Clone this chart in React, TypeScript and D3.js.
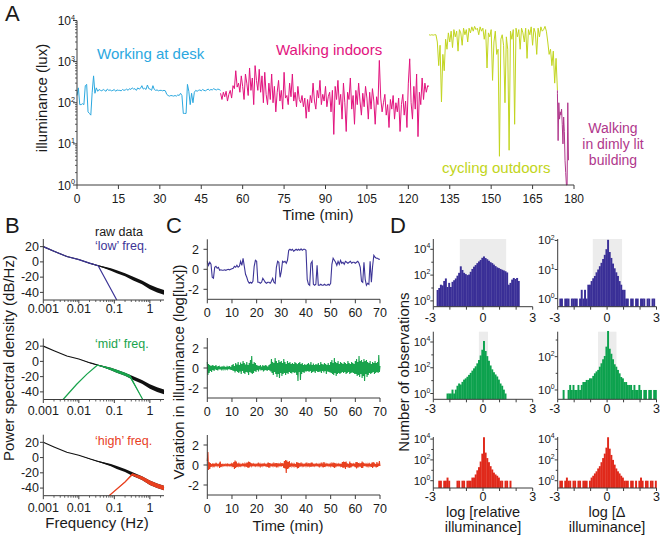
import React from "react";
import * as d3 from "d3";

// ---------- panel A: illuminance over the day (lux) ----------
const stepA = 0.5; // minutes between samples
const deskStart = 0;
const deskLux = [
  150, 230, 90, 90, 95, 90, 260, 280, 60, 55,
  50, 180, 450, 170, 230, 190, 210, 200, 195, 210,
  200, 190, 215, 200, 205, 195, 200, 210, 190, 205,
  200, 200, 195, 210, 200, 205, 215, 200, 220, 210,
  230, 215, 220, 200, 230, 215, 225, 260, 215, 225,
  210, 270, 220, 215, 200, 260, 210, 200, 205, 195,
  200, 200, 195, 200, 195, 160, 150, 145, 150, 148,
  145, 150, 145, 155, 150, 170, 150, 55, 55, 55,
  280, 190, 90, 170, 100, 180, 200, 190, 200, 205,
  195, 210, 200, 195, 205, 215, 200, 210, 205, 220,
  210, 205, 215, 210, 200,
];
const walkStart = 52;
const walkLux = [
  170, 120, 180, 140, 190, 110, 160, 200, 130, 260,
  220, 600, 240, 300, 180, 450, 250, 120, 500, 300,
  150, 700, 200, 400, 90, 800, 350, 200, 650, 180,
  450, 100, 550, 160, 90, 300, 120, 500, 100, 250,
  60, 180, 350, 110, 200, 70, 550, 130, 150, 90,
  300, 140, 500, 110, 180, 80, 250, 120, 100, 150,
  80, 130, 42, 120, 60, 150, 100, 300, 110, 70,
  200, 130, 350, 90, 160, 110, 250, 80, 140, 180,
  60, 200, 17, 250, 120, 350, 90, 160, 40, 300,
  100, 20, 180, 120, 400, 70, 150, 30, 200, 90,
  300, 110, 50, 170, 80, 250, 130, 40, 180, 70,
  220, 110, 30, 140, 90, 1070, 130, 60, 100, 160,
  50, 90, 25, 120, 70, 150, 40, 100, 60, 130,
  20, 90, 160, 50, 110, 25, 300, 1170, 100, 40,
  250, 70, 500, 15, 180, 90, 400, 120, 300, 180,
  260, 250,
];
const cycleStart = 127.5;
const cycleLux = [
  4500, 4400, 4500, 4400, 4500, 4500, 3000, 800, 2500, 105,
  1500, 600, 3500, 2000, 5000, 3000, 5500, 2200, 6000, 4000,
  5500, 1800, 6000, 5000, 2500, 6500, 4500, 6000, 3000, 6500,
  5000, 7000, 5500, 7200, 6000, 6500, 4500, 7000, 5500, 6500,
  3500, 6000, 700, 5000, 4000, 6000, 350, 3000, 5500, 1500,
  2000, 5, 3500, 4500, 2500, 100, 4000, 2000, 7, 5500,
  3500, 6000, 30, 6500, 4000, 6000, 2000, 6500, 5000, 3000,
  6500, 1200, 6000, 4500, 7000, 2500, 6500, 5000, 1500, 6500,
  4000, 7000, 5500, 6000, 7200, 5500, 3000, 1500, 2000, 800,
  1800, 300, 1200, 200,
];
const dimStart = 174;
const dimStep = 0.25;
const dimLux = [170, 12, 100, 40, 60, 50, 70, 30, 10, 45, 20, 4, 2, 1, 1, 100, 4];
const timeTicksA = [0, 15, 30, 45, 60, 75, 90, 105, 120, 135, 150, 165, 180];
const luxDecades = [0, 1, 2, 3, 4];

// ---------- panel B: power spectra (dB/Hz vs Hz) ----------
const rawFreq = [0.001, 0.002, 0.0046, 0.01, 0.021, 0.032, 0.05, 0.08, 0.117, 0.2, 0.34, 0.6, 1, 1.6, 2.5];
const rawDb = [20, 14, 7, 3, -2, -4.5, -7, -10, -13, -17, -22, -27, -33, -37, -40];
const rawSpread = [0, 0, 0, 0, 0.3, 0.5, 1, 1.5, 2, 2, 2.5, 2.5, 3, 3, 3];
const lowFreq = [0.001, 0.002, 0.0046, 0.01, 0.021, 0.035, 0.117];
const lowDb = [20, 14, 7, 3, -2, -5, -50];
const midFreq = [0.0036, 0.0087, 0.0166, 0.033, 0.05, 0.08, 0.117, 0.2, 0.28, 0.63];
const midDb = [-50, -30, -17, -5, -7, -10, -13, -17, -20, -50];
const midSpread = [0, 0, 0, 0, 1, 1.5, 2, 2, 2, 0];
const highFreq = [0.071, 0.2, 0.32, 0.6, 1, 1.6, 2.5];
const highDb = [-50, -32, -22, -27, -33, -37, -40];
const highSpread = [0, 0.5, 1.5, 2.5, 3, 3, 3];
const freqLabels = [0.001, 0.01, 0.1, 1];
const dbTicks = [20, 0, -20, -40];

// ---------- panel C: filtered traces (log lux) ----------
const lowStep = 0.5;
const lowTrace = [
  0.8, 0.4, 0.7, 0.5, -0.8, -0.9, 0.2, 0.3, 0.1, 0.2,
  -0.1, -0.05, -0.1, -0.1, -0.05, -0.1, -0.05, 0, -0.05, 0,
  0.05, 0.1, 0.3, 0.2, 0.4, 0.2, 0.3, 0.8, 0.4, 1.1,
  0.3, -0.5, -0.8, -1.2, -1.4, -1.3, -1.4, -1.2, 0.3, 0.9,
  0.8, -1.3, -1.3, -1.4, -1.3, -0.9, -1.1, -1.3, -1.4, -1.3,
  -1.3, -1.4, -1.2, -0.9, -1.3, -1.4, 0.2, 0.8, 0.7, -0.8,
  -0.2, 0.8, 0.7, 0.8, 0.6, 0.9, 1.9, 2.0, 1.9, 2.0,
  1.8, 1.9, 2.0, 1.9, 2.0, 1.9, 2.05, 1.9, 2.0, 2.0,
  1.9, -1.0, -1.5, -1.6, 0.6, 0.8, -1.5, -1.6, -1.5, 0.4,
  -1.6, -1.6, -1.5, -1.6, -1.6, -1.5, -1.6, -1.6, -1.5, -1.6,
  -1.4, 0.5, 1.1, 0.9, 0.7, 0.4, 0.8, 0.5, 0.9, 0.6,
  0.7, 0.5, 0.8, 0.7, 0.6, 0.7, 0.8, 0.6, 0.7, 0.7,
  0.6, 0.7, 0.8, 0.6, 0.2, -1.2, -1.3, 0.7, -1.0, -1.6,
  -1.4, -1.5, 0.8, -1.3, 0.3, 1.4, 1.2, 1.1, 1.1, 1.0,
  1.0,
];
const fastStep = 0.25;
const midTrace = [
  0.6, -0.7, 0.4, -0.5, 0.3, -0.3, 0.2, -0.4, 0.3, -0.2, 0.25, -0.3, 0.2, -0.15, 0.3, -0.2, 0.15, -0.25, 0.2, -0.1,
  0.1, -0.15, 0.12, -0.1, 0.15, -0.08, 0.1, -0.12, 0.08, -0.1, 0.12, -0.15, 0.1, -0.1, 0.15, -0.12, 0.2, -0.15, 0.1, -0.2,
  0.3, -0.25, 0.4, -0.3, 0.2, -0.45, 0.5, -0.3, 0.35, -0.4, 0.6, -0.5, 0.3, -0.35, 0.55, -0.6, 0.4, -0.3, 0.7, -0.5,
  0.5, -0.6, 0.35, -0.4, 0.6, -0.45, 0.3, -0.7, 0.5, -0.4, 0.8, -0.5, 1.2, -0.6, 0.4, -0.5, 0.6, -0.3, 0.5, -0.4,
  0.3, -0.2, 0.25, -0.35, 0.2, -0.15, 0.3, -0.25, 0.15, -0.2, 0.3, -0.35, 0.2, -0.25, 0.3, -0.2, 0.25, -0.3, 0.15, -0.2,
  0.3, -0.25, 0.4, -0.35, 0.9, -0.5, 0.6, -0.7, 0.5, -0.4, 1.0, -0.6, 0.7, -0.9, 0.5, -0.6, 0.8, -1.0, 0.6, -0.5,
  0.7, -0.8, 0.5, -0.6, 0.9, -0.5, 0.6, -0.7, 0.4, -0.5, 0.7, -0.6, 0.5, -0.4, 0.6, -0.5, 0.4, -0.55, 0.5, -0.4,
  0.4, -0.5, 0.6, -0.45, 0.5, -0.7, 0.4, -1.3, 0.5, -0.4, 0.6, -1.2, 0.4, -0.6, 0.5, -0.4, 0.3, -0.5, 0.4, -0.35,
  0.3, -0.35, 0.4, -0.3, 0.5, -0.4, 0.35, -0.3, 0.6, -0.5, 0.3, -0.4, 0.45, -0.35, 0.3, -0.5, 0.4, -0.3, 0.35, -0.4,
  0.5, -0.4, 0.3, -0.35, 0.6, -0.5, 0.4, -0.3, 0.35, -0.45, 0.5, -0.3, 0.4, -0.6, 0.3, -0.35, 0.5, -0.4, 0.3, -0.45,
  0.6, -0.5, 0.8, -0.6, 0.5, -0.7, 1.0, -0.5, 0.6, -0.8, 0.5, -0.6, 0.7, -0.5, 0.4, -0.6, 0.6, -0.5, 0.5, -0.4,
  0.4, -0.5, 0.6, -0.4, 0.5, -0.6, 0.4, -0.5, 0.7, -0.4, 0.5, -0.6, 0.4, -0.5, 0.6, -0.45, 0.5, -0.5, 0.4, -0.6,
  0.7, -0.6, 0.9, -0.8, 0.6, -0.7, 1.2, -0.9, 0.7, -0.6, 0.8, -1.0, 0.6, -0.8, 0.9, -1.3, 0.7, -0.6, 0.8, -0.9,
  0.6, -0.7, 0.5, -0.5, 0.7, -0.6, 0.4, -0.5, 0.6, -0.4, 0.5, -0.6, 0.7, -0.5, 0.5, -0.4, 0.6, -0.5, 1.3, -0.4,
  0.2,
];
const highTrace = [
  0.4, 1.3, -0.5, 0.3, -0.4, 0.2, -0.2, 0.1, -0.1, 0.15, -0.1, 0.05, -0.1, 0.1, -0.05, 0.1, -0.1, 0.05, -0.05, 0.1,
  -0.3, 0.35, -0.2, 0.1, -0.1, 0.05, -0.08, 0.06, -0.05, 0.08, -0.06, 0.05, -0.1, 0.08, -0.05, 0.06, -0.08, 0.05, -0.06, 0.1,
  -0.1, 0.15, -0.2, 0.3, -0.4, 0.45, -0.3, 0.35, -0.2, 0.15, -0.1, 0.1, -0.15, 0.08, -0.1, 0.05, -0.08, 0.1, -0.06, 0.08,
  -0.1, 0.12, -0.08, 0.1, -0.2, 0.25, -0.3, 0.35, -0.25, 0.3, -0.15, 0.2, -0.1, 0.08, -0.06, 0.1, -0.08, 0.06, -0.1, 0.08,
  -0.06, 0.1, -0.08, 0.12, -0.1, 0.08, -0.12, 0.1, -0.08, 0.06, -0.1, 0.15, -0.12, 0.1, -0.08, 0.06, -0.1, 0.08, -0.2, 0.25,
  -0.3, 0.2, -0.1, 0.08, -0.06, 0.1, -0.08, 0.12, -0.1, 0.08, -0.15, 0.2, -0.25, 0.2, -0.1, 0.08, -0.1, 0.15, -0.12, 0.1,
  -0.15, 0.2, -0.1, 0.15, -0.3, 0.4, -0.35, 0.5, -0.8, 0.45, -0.4, 0.3, -0.35, 0.4, -0.2, 0.15, -0.1, 0.12, -0.08, 0.1,
  -0.1, 0.08, -0.12, 0.1, -0.2, 0.3, -0.35, 0.25, -0.3, 0.2, -0.15, 0.1, -0.08, 0.12, -0.1, 0.08, -0.1, 0.06, -0.08, 0.1,
  -0.1, 0.12, -0.08, 0.1, -0.15, 0.2, -0.1, 0.08, -0.2, 0.25, -0.15, 0.1, -0.08, 0.06, -0.1, 0.08, -0.06, 0.1, -0.08, 0.06,
  -0.1, 0.08, -0.12, 0.1, -0.08, 0.12, -0.1, 0.08, -0.25, 0.3, -0.2, 0.1, -0.08, 0.1, -0.06, 0.08, -0.1, 0.06, -0.08, 0.1,
  -0.1, 0.12, -0.08, 0.1, -0.2, 0.25, -0.3, 0.2, -0.1, 0.08, -0.1, 0.06, -0.08, 0.1, -0.06, 0.08, -0.1, 0.12, -0.2, 0.3,
  -0.3, 0.35, -0.25, 0.3, -0.4, 0.35, -0.2, 0.15, -0.1, 0.12, -0.3, 0.35, -0.25, 0.2, -0.1, 0.08, -0.06, 0.1, -0.08, 0.06,
  -0.2, 0.3, -0.35, 0.3, -0.25, 0.2, -0.1, 0.08, -0.15, 0.2, -0.3, 0.35, -0.3, 0.25, -0.1, 0.08, -0.06, 0.1, -0.08, 0.1,
  -0.1, 0.08, -0.12, 0.1, -0.08, 0.12, -0.2, 0.25, -0.3, 0.3, -0.15, 0.1, -0.08, 0.1, -0.25, 0.3, -0.2, 0.15, -0.1, 0.4,
  -0.1,
];
const timeTicksC = [0, 10, 20, 30, 40, 50, 60, 70];
const varTicks = [2, 0, -2];

// ---------- panel D: histograms, bins of 0.1 from -3 to 3 ----------
const binStart = -3;
const binWidth = 0.1;
const lowRelCounts = [
  0, 0, 7, 10, 18, 16, 35, 55, 12, 25,
  12, 30, 40, 55, 90, 150, 480, 250, 150, 120,
  100, 110, 180, 300, 450, 600, 850, 1150, 1500, 2200,
  2800, 2100, 1700, 1300, 1000, 850, 650, 500, 400, 350,
  300, 260, 230, 200, 160, 18, 25, 45, 60, 50,
  60, 35, 0, 0, 0, 0, 0, 0, 0, 0,
];
const lowDeltaCounts = [
  0, 1, 1, 0, 1, 1, 1, 0, 1, 1,
  1, 1, 0, 1, 2, 1, 2, 1, 3, 3,
  4, 5, 6, 8, 10, 13, 17, 23, 32, 50,
  105, 40, 25, 16, 11, 8, 6, 4, 3, 2,
  2, 1, 1, 0, 1, 1, 0, 1, 1, 0,
  1, 1, 1, 0, 1, 1, 0, 1, 1, 0,
];
const midRelCounts = [
  0, 0, 0, 0, 0, 0, 0, 0, 1, 1,
  1, 2, 1, 2, 4, 6, 5, 8, 12, 15,
  20, 28, 40, 60, 90, 130, 220, 400, 900, 2500,
  12000, 2000, 800, 350, 150, 75, 45, 30, 21, 12,
  6, 4, 2, 1, 0, 0, 0, 0, 0, 0,
  0, 0, 0, 0, 0, 0, 0, 0, 0, 0,
];
const midDeltaCounts = [
  0, 0, 0, 1, 0, 0, 1, 2, 1, 2,
  1, 1, 2, 1, 2, 3, 3, 4, 4, 5,
  5, 7, 10, 13, 16, 25, 40, 70, 110, 400,
  3500, 300, 150, 70, 35, 25, 16, 10, 6, 5,
  3, 3, 2, 2, 2, 1, 2, 1, 1, 2,
  1, 0, 1, 1, 0, 1, 1, 0, 1, 1,
];
const highRelCounts = [
  0, 0, 0, 1, 1, 0, 1, 1, 2, 1,
  0, 0, 0, 0, 1, 1, 0, 1, 1, 0,
  1, 1, 1, 2, 2, 4, 10, 20, 70, 400,
  15000, 500, 150, 60, 25, 12, 6, 4, 3, 2,
  1, 1, 0, 1, 1, 0, 1, 0, 0, 0,
  0, 0, 0, 0, 0, 0, 0, 0, 0, 0,
];
const highDeltaCounts = [
  0, 1, 1, 0, 1, 2, 1, 1, 0, 1,
  1, 0, 1, 1, 0, 1, 1, 1, 0, 1,
  2, 3, 5, 8, 15, 25, 60, 150, 400, 1500,
  15000, 1200, 300, 100, 35, 15, 8, 5, 3, 2,
  1, 1, 1, 0, 1, 1, 0, 1, 0, 1,
  2, 1, 0, 1, 1, 0, 1, 1, 0, 1,
];
const histXLabels = [-3, 0, 3];
const histXTicks = [-3, -2, -1, 0, 1, 2, 3];

const FONT = "'Liberation Sans', Arial, Helvetica, sans-serif";
const AXIS = "#3c3c3c";
const TXT = "#1a1a1a";
const COL = {
  desk: "#2ba8df",
  walk: "#e2137e",
  cycle: "#c2d520",
  dim: "#b0378c",
  low: "#3d3597",
  mid: "#18a34c",
  high: "#e8401f",
  histLow: "#3a2f97",
  histMid: "#0da24e",
  histHigh: "#e0291b",
  shade: "#ececec",
};

type Pt = { t: number; v: number };
const toPts = (start: number, step: number, vals: number[]): Pt[] =>
  vals.map((v, i) => ({ t: start + i * step, v }));

const Pow10 = ({ x, y, exp, size = 12 }: { x: number; y: number; exp: number; size?: number }) => (
  <text x={x} y={y} textAnchor="end" fontSize={size} fill={TXT}>
    10
    <tspan dy={-size * 0.42} fontSize={size * 0.6}>
      {exp}
    </tspan>
  </text>
);

const YTitle = ({ x, y, children, size = 15 }: any) => (
  <text transform={`translate(${x},${y}) rotate(-90)`} textAnchor="middle" fontSize={size} fill={TXT}>
    {children}
  </text>
);

function PanelA() {
  const x = d3.scaleLinear().domain([0, 180]).range([77, 574]);
  const y = d3.scaleLog().domain([1, 1e4]).range([185, 20.5]);
  const line = d3
    .line<Pt>()
    .x((d) => x(d.t))
    .y((d) => y(Math.max(d.v, 1)));
  const lastCycle = { t: cycleStart + (cycleLux.length - 1) * stepA, v: cycleLux[cycleLux.length - 1] };
  const segs = [
    { pts: toPts(deskStart, stepA, deskLux), color: COL.desk },
    { pts: toPts(walkStart, stepA, walkLux), color: COL.walk },
    { pts: toPts(cycleStart, stepA, cycleLux), color: COL.cycle },
    { pts: [lastCycle, ...toPts(dimStart, dimStep, dimLux)], color: COL.dim },
  ];
  const minor = y.ticks().filter((v) => !Number.isInteger(Math.log10(v)));
  return (
    <g>
      <text x={5} y={21} fontSize={22} fill={TXT}>A</text>
      {segs.map((s, i) => (
        <path key={i} d={line(s.pts) || ""} fill="none" stroke={s.color} strokeWidth={1} />
      ))}
      <line x1={77} x2={77} y1={y(1e4)} y2={185} stroke={AXIS} />
      <line x1={77} x2={574} y1={185} y2={185} stroke={AXIS} />
      {minor.map((v) => (
        <line key={v} x1={75} x2={77} y1={y(v)} y2={y(v)} stroke={AXIS} strokeWidth={0.8} />
      ))}
      {luxDecades.map((d) => (
        <g key={d}>
          <line x1={73} x2={77} y1={y(10 ** d)} y2={y(10 ** d)} stroke={AXIS} />
          <Pow10 x={75} y={y(10 ** d) + 4.5} exp={d} />
        </g>
      ))}
      {timeTicksA.map((t) => (
        <g key={t}>
          <line x1={x(t)} x2={x(t)} y1={185} y2={189} stroke={AXIS} />
          <text x={x(t)} y={203} textAnchor="middle" fontSize={12} fill={TXT}>{t}</text>
        </g>
      ))}
      <text x={318} y={220} textAnchor="middle" fontSize={15} fill={TXT}>Time (min)</text>
      <YTitle x={47} y={98}>illuminance (lux)</YTitle>
      <text x={97} y={59} fontSize={15} fill={COL.desk}>Working at desk</text>
      <text x={276} y={55} fontSize={15} fill={COL.walk}>Walking indoors</text>
      <text x={442} y={173} fontSize={15} fill={COL.cycle}>cycling outdoors</text>
      <text x={613} y={132.5} textAnchor="middle" fontSize={14} fill={COL.dim}>Walking</text>
      <text x={613} y={148.5} textAnchor="middle" fontSize={14} fill={COL.dim}>in dimly lit</text>
      <text x={613} y={164.5} textAnchor="middle" fontSize={14} fill={COL.dim}>building</text>
    </g>
  );
}

function PanelB() {
  const x = d3.scaleLog().domain([0.001, 2.5]).range([43.3, 164]);
  const rows = [
    { top: 239, bottom: 300, lab: 312.5, f: lowFreq, db: lowDb, s: null as number[] | null, color: COL.low, name: "\u2018low\u2019 freq.", nameY: 249.5 },
    { top: 338.5, bottom: 399.5, lab: 415, f: midFreq, db: midDb, s: midSpread, color: COL.mid, name: "\u2018mid\u2019 freq.", nameY: 348 },
    { top: 434.7, bottom: 495.7, lab: 511.5, f: highFreq, db: highDb, s: highSpread, color: COL.high, name: "\u2018high\u2019 freq.", nameY: 445 },
  ];
  const minor = x.ticks().filter((v) => !Number.isInteger(Math.round(Math.log10(v) * 1000) / 1000));
  return (
    <g>
      <text x={5} y={233} fontSize={22} fill={TXT}>B</text>
      <text x={95} y={236} fontSize={12.5} fill={TXT}>raw data</text>
      {rows.map((r, ri) => {
        const y = d3.scaleLinear().domain([-50, 30]).range([r.bottom, r.top]);
        const raw = rawFreq.map((f, i) => ({ f, db: rawDb[i], s: rawSpread[i] }));
        const filt = r.f.map((f, i) => ({ f, db: r.db[i], s: r.s ? r.s[i] : 0 }));
        const line = d3.line<any>().x((d) => x(d.f)).y((d) => y(d.db));
        const band = d3
          .area<any>()
          .x((d) => x(d.f))
          .y0((d) => y(d.db - d.s))
          .y1((d) => y(d.db + d.s));
        return (
          <g key={ri}>
            <path d={band(raw) || ""} fill="#111" />
            <path d={line(raw) || ""} fill="none" stroke="#111" strokeWidth={1.1} />
            {r.s && <path d={band(filt) || ""} fill={r.color} />}
            <path d={line(filt) || ""} fill="none" stroke={r.color} strokeWidth={1.2} />
            <line x1={43.3} x2={43.3} y1={r.top} y2={r.bottom} stroke={AXIS} />
            <line x1={43.3} x2={164} y1={r.bottom} y2={r.bottom} stroke={AXIS} />
            {dbTicks.map((v) => (
              <g key={v}>
                <line x1={40} x2={43.3} y1={y(v)} y2={y(v)} stroke={AXIS} />
                <text x={39} y={y(v) + 4.3} textAnchor="end" fontSize={12.5} fill={TXT}>{v}</text>
              </g>
            ))}
            {minor.map((v, i) => (
              <line key={i} x1={x(v)} x2={x(v)} y1={r.bottom} y2={r.bottom + 2} stroke={AXIS} strokeWidth={0.8} />
            ))}
            {freqLabels.map((v) => (
              <g key={v}>
                <line x1={x(v)} x2={x(v)} y1={r.bottom} y2={r.bottom + 3.5} stroke={AXIS} />
                <text x={x(v)} y={r.lab} textAnchor="middle" fontSize={12.5} fill={TXT}>{v}</text>
              </g>
            ))}
            <text x={95} y={r.nameY} fontSize={12.5} fill={r.color}>{r.name}</text>
          </g>
        );
      })}
      <text x={97} y={528} textAnchor="middle" fontSize={15} fill={TXT}>Frequency (Hz)</text>
      <YTitle x={14} y={358}>Power spectral density (dB/Hz)</YTitle>
    </g>
  );
}

function PanelC() {
  const x = d3.scaleLinear().domain([0, 70]).range([207.3, 380]);
  const rows = [
    { top: 239.3, bottom: 299.3, pts: toPts(0, lowStep, lowTrace), color: COL.low },
    { top: 338, bottom: 398, pts: toPts(0, fastStep, midTrace), color: COL.mid },
    { top: 435, bottom: 495, pts: toPts(0, fastStep, highTrace), color: COL.high },
  ];
  return (
    <g>
      <text x={166} y={233} fontSize={22} fill={TXT}>C</text>
      {rows.map((r, ri) => {
        const y = d3.scaleLinear().domain([-3, 3]).range([r.bottom, r.top]);
        const line = d3.line<Pt>().x((d) => x(d.t)).y((d) => y(d.v));
        return (
          <g key={ri}>
            <path d={line(r.pts) || ""} fill="none" stroke={r.color} strokeWidth={1.1} />
            <line x1={207.3} x2={207.3} y1={r.top} y2={r.bottom} stroke={AXIS} />
            <line x1={207.3} x2={380} y1={r.bottom} y2={r.bottom} stroke={AXIS} />
            {varTicks.map((v) => (
              <g key={v}>
                <line x1={203.5} x2={207.3} y1={y(v)} y2={y(v)} stroke={AXIS} />
                <text x={199} y={y(v) + 4.5} textAnchor="end" fontSize={12.5} fill={TXT}>{v}</text>
              </g>
            ))}
            {timeTicksC.map((t) => (
              <g key={t}>
                <line x1={x(t)} x2={x(t)} y1={r.bottom} y2={r.bottom + 4} stroke={AXIS} />
                <text x={x(t)} y={r.bottom + 17.5} textAnchor="middle" fontSize={12.5} fill={TXT}>{t}</text>
              </g>
            ))}
          </g>
        );
      })}
      <text x={288} y={531} textAnchor="middle" fontSize={15} fill={TXT}>Time (min)</text>
      <YTitle x={184} y={372}>Variation in illuminance (log[lux])</YTitle>
    </g>
  );
}

function PanelD() {
  const hists = [
    { x0: 433.3, x1: 532.7, top: 239, bottom: 306.7, lo: -0.45, hi: 4.8, counts: lowRelCounts, color: COL.histLow, shade: [-1.4, 1.4], labels: [0, 2, 4], ticks: [0, 1, 2, 3, 4], lab: 15 },
    { x0: 557.7, x1: 656.5, top: 239, bottom: 306.7, lo: -0.28, hi: 2.05, counts: lowDeltaCounts, color: COL.histLow, shade: [-0.87, 0.91], labels: [0, 1, 2], ticks: [0, 1, 2], lab: 15 },
    { x0: 433.3, x1: 532.7, top: 331.7, bottom: 399.3, lo: -0.45, hi: 4.8, counts: midRelCounts, color: COL.histMid, shade: [-0.25, 0.3], labels: [0, 2, 4], ticks: [0, 1, 2, 3, 4], lab: 14 },
    { x0: 557.7, x1: 656.5, top: 331.7, bottom: 399.3, lo: -0.56, hi: 3.5, counts: midDeltaCounts, color: COL.histMid, shade: [-0.55, 0.57], labels: [0, 2], ticks: [0, 1, 2, 3], lab: 14 },
    { x0: 433.3, x1: 532.7, top: 437, bottom: 488, lo: -0.7, hi: 4.2, counts: highRelCounts, color: COL.histHigh, shade: null as number[] | null, labels: [0, 2, 4], ticks: [0, 1, 2, 3, 4], lab: 12.5 },
    { x0: 557.7, x1: 656.5, top: 437, bottom: 488, lo: -0.7, hi: 4.2, counts: highDeltaCounts, color: COL.histHigh, shade: null as number[] | null, labels: [0, 2, 4], ticks: [0, 1, 2, 3, 4], lab: 12.5 },
  ];
  return (
    <g>
      <text x={390} y={233} fontSize={22} fill={TXT}>D</text>
      {hists.map((h, hi) => {
        const x = d3.scaleLinear().domain([-3, 3]).range([h.x0, h.x1]);
        const y = d3.scaleLog().domain([10 ** h.lo, 10 ** h.hi]).range([h.bottom, h.top]);
        return (
          <g key={hi}>
            {h.shade && (
              <rect x={x(h.shade[0])} y={h.top} width={x(h.shade[1]) - x(h.shade[0])} height={h.bottom - h.top} fill={COL.shade} />
            )}
            {h.counts.map((c, i) =>
              c > 0 ? (
                <rect
                  key={i}
                  x={x(binStart + i * binWidth)}
                  y={y(c)}
                  width={x(binStart + (i + 1) * binWidth) - x(binStart + i * binWidth) + 0.3}
                  height={h.bottom - y(c)}
                  fill={h.color}
                />
              ) : null
            )}
            <line x1={h.x0} x2={h.x0} y1={h.top} y2={h.bottom} stroke={AXIS} />
            <line x1={h.x0} x2={h.x1} y1={h.bottom} y2={h.bottom} stroke={AXIS} />
            {h.ticks.map((d) => (
              <line key={d} x1={h.x0 - (h.labels.includes(d) ? 3 : 2)} x2={h.x0} y1={y(10 ** d)} y2={y(10 ** d)} stroke={AXIS} />
            ))}
            {h.labels.map((d) => (
              <Pow10 key={d} x={h.x0 - 3} y={y(10 ** d) + 4} exp={d} size={11.5} />
            ))}
            {histXTicks.map((t) => (
              <line key={t} x1={x(t)} x2={x(t)} y1={h.bottom} y2={h.bottom + 3} stroke={AXIS} />
            ))}
            {histXLabels.map((t) => (
              <text key={t} x={x(t) - (t < 0 ? 3 : 0)} y={h.bottom + h.lab} textAnchor="middle" fontSize={12.5} fill={TXT}>{t}</text>
            ))}
          </g>
        );
      })}
      <text x={483} y={517} textAnchor="middle" fontSize={14.5} fill={TXT}>log [relative</text>
      <text x={483} y={532} textAnchor="middle" fontSize={14.5} fill={TXT}>illuminance]</text>
      <text x={607} y={517} textAnchor="middle" fontSize={14.5} fill={TXT}>log [{"\u0394"}</text>
      <text x={607} y={532} textAnchor="middle" fontSize={14.5} fill={TXT}>illuminance]</text>
      <YTitle x={409} y={372}>Number of observations</YTitle>
    </g>
  );
}

export default function App() {
  return (
    <svg
      width={660}
      height={538}
      viewBox="0 0 660 538"
      style={{ position: "absolute", left: 0, top: 0, background: "#fff" }}
      fontFamily={FONT}
    >
      <PanelA />
      <PanelB />
      <PanelC />
      <PanelD />
    </svg>
  );
}
